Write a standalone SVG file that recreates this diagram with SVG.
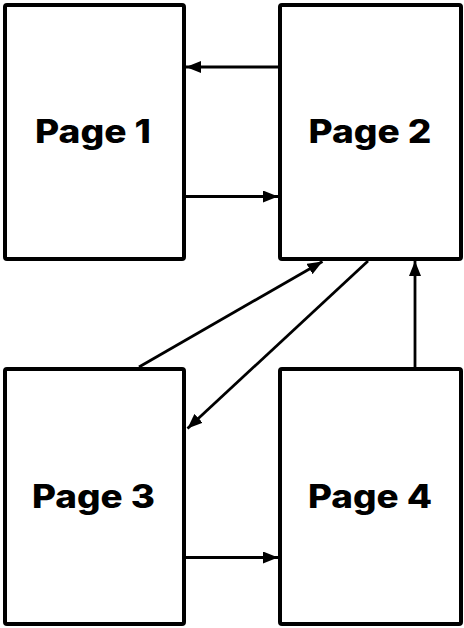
<svg xmlns="http://www.w3.org/2000/svg" width="464" height="628" viewBox="0 0 464 628">
<style>
.box{fill:#fff;stroke:#000;stroke-width:4;}
.lbl{font-family:Inter,"Noto Sans","Liberation Sans",sans-serif;font-weight:800;font-size:32px;fill:#000;text-anchor:middle;}
.edge{stroke:#000;stroke-width:2.8;fill:none;marker-end:url(#ah);}
</style>
<defs>
<marker id="ah" viewBox="0 0 15 12" refX="15" refY="6" markerWidth="15" markerHeight="12" markerUnits="userSpaceOnUse" orient="auto">
<path d="M0,0 L15,6 L0,12 Z" fill="#000"/>
</marker>
</defs>
<rect width="464" height="628" fill="#fff"/>
<g id="page1"><rect class="box" x="5" y="5" width="179" height="254" rx="2"/><text class="lbl" x="93" y="143" textLength="116" lengthAdjust="spacingAndGlyphs">Page 1</text></g>
<g id="page2"><rect class="box" x="280" y="5" width="181" height="254" rx="2"/><text class="lbl" x="370" y="143" textLength="123" lengthAdjust="spacingAndGlyphs">Page 2</text></g>
<g id="page3"><rect class="box" x="5" y="369" width="179" height="255" rx="2"/><text class="lbl" x="93.5" y="508" textLength="123" lengthAdjust="spacingAndGlyphs">Page 3</text></g>
<g id="page4"><rect class="box" x="280" y="369" width="181" height="255" rx="2"/><text class="lbl" x="370" y="508" textLength="124" lengthAdjust="spacingAndGlyphs">Page 4</text></g>
<g id="connectors">
<line class="edge" x1="278" y1="67" x2="186" y2="67"/>
<line class="edge" x1="186" y1="196.5" x2="278" y2="196.5"/>
<line class="edge" x1="139" y1="367" x2="322.5" y2="261.5"/>
<line class="edge" x1="368" y1="261" x2="187.5" y2="428.5"/>
<line class="edge" x1="415" y1="367" x2="415" y2="261"/>
<line class="edge" x1="186" y1="557.5" x2="278" y2="557.5"/>
</g>
</svg>
